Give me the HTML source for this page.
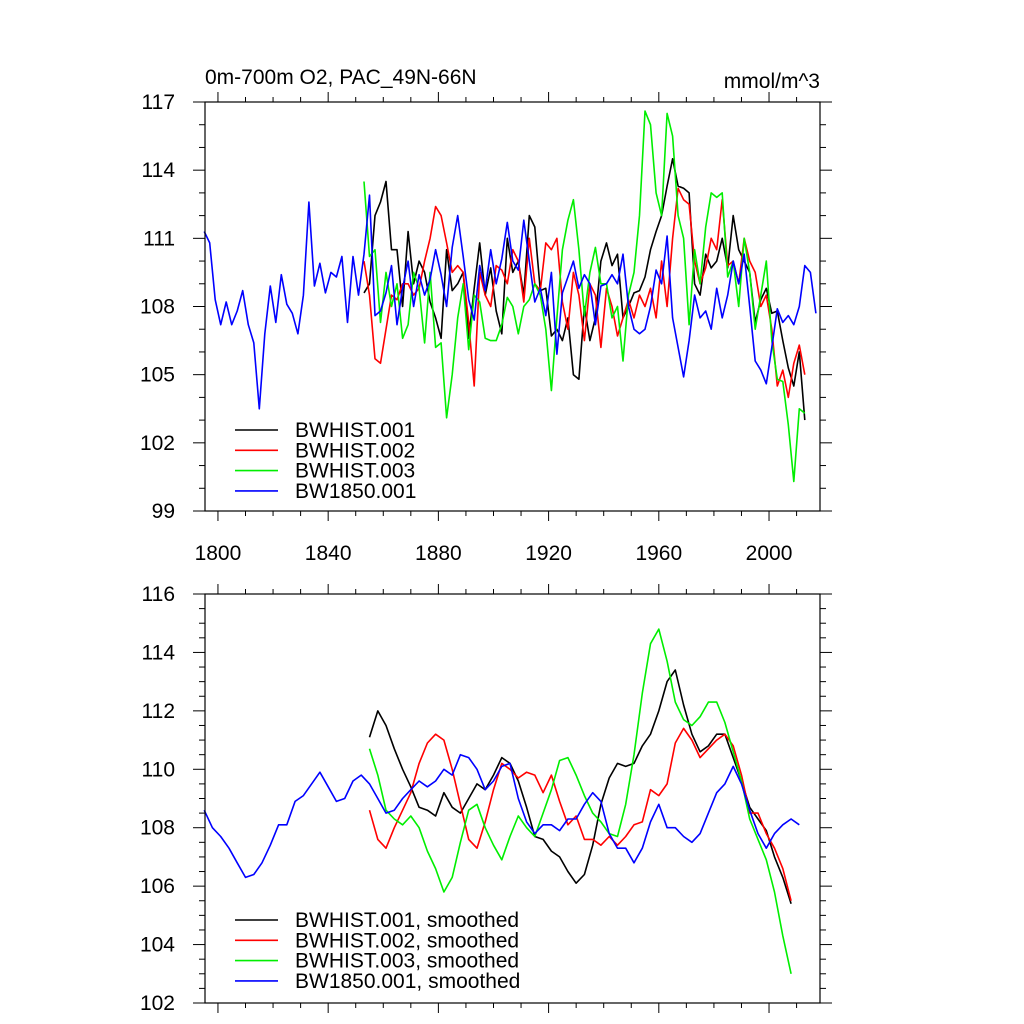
<!DOCTYPE html>
<html><head><meta charset="utf-8"><style>
html,body{margin:0;padding:0;background:#fff;}
svg{display:block;font-family:"Liberation Sans",Arial,sans-serif;}
</style></head><body>
<svg id="chart" width="1024" height="1024" viewBox="0 0 1024 1024">
<text x="205" y="84" font-size="21">0m-700m O2, PAC_49N-66N</text>
<text x="820" y="88" font-size="21" text-anchor="end">mmol/m^3</text>
<g id="top"></g>
<g id="bot"></g>
</svg>
<script>
// ---- top panel (annual values, every 2 years) ----
const rawBlueStart = 1795;
const rawBlue = [111.3,110.8,108.3,107.2,108.2,107.2,107.8,108.7,107.2,106.4,103.5,106.8,108.9,107.3,109.4,108.1,107.7,106.8,108.5,112.6,108.9,109.9,108.6,109.5,109.3,110.2,107.3,110.2,108.5,110.3,112.9,107.6,107.8,108.6,109.8,107.2,108.8,110.0,108.0,109.4,108.5,109.2,110.5,109.4,108.0,110.6,112.0,110.2,108.3,107.4,109.8,108.7,110.5,109.0,110.1,111.7,110.0,109.6,111.8,110.0,108.2,108.8,107.6,109.5,105.9,108.6,109.3,110.0,108.8,109.4,109.0,107.2,108.9,109.0,109.4,109.0,110.3,108.0,107.0,106.8,107.0,108.0,109.6,109.0,111.1,107.5,106.2,104.9,106.5,108.5,107.5,107.8,107.0,108.8,107.5,108.5,110.0,109.0,110.3,108.0,105.6,105.2,104.6,106.2,107.9,107.3,107.6,107.2,108.0,109.8,109.5,107.7];
const rawHistStart = 1853;
const rawBlack = [108.6,109.0,112.0,112.6,113.5,110.5,110.5,108.0,111.3,109.0,110.0,109.5,108.2,107.5,106.6,110.5,108.7,109.0,109.5,106.6,108.8,110.8,108.5,109.7,107.8,106.8,111.0,109.5,110.0,108.5,112.0,111.5,108.7,108.8,106.7,107.0,106.5,107.5,105.0,104.8,108.0,106.5,107.5,110.0,110.8,109.8,110.3,107.5,108.0,108.6,108.7,109.3,110.5,111.3,112.0,113.3,114.5,113.3,113.2,113.0,109.0,108.5,110.3,109.7,110.0,111.0,109.7,112.0,110.5,110.0,109.5,107.3,108.3,108.8,107.7,107.8,106.5,105.3,104.5,106.0,103.0];
const rawRed = [110.0,108.5,105.7,105.5,107.0,108.5,108.3,109.0,109.0,108.5,108.8,110.0,111.0,112.4,112.0,110.8,109.5,109.8,109.5,107.3,104.5,109.5,108.5,108.0,109.8,109.6,109.0,110.5,110.0,108.2,111.0,109.0,108.7,110.8,110.5,111.0,108.2,107.0,109.5,108.5,106.5,109.0,108.5,106.2,108.8,108.0,106.7,107.5,108.3,107.5,108.5,108.0,108.8,107.5,110.0,108.0,111.0,113.2,112.7,112.5,110.0,109.0,109.7,111.0,110.5,112.7,109.8,110.0,109.0,111.0,110.0,109.5,108.0,108.5,107.0,104.5,105.2,104.0,105.5,106.3,105.0];
const rawGreen = [113.5,110.2,110.5,107.3,109.5,108.0,109.0,106.6,107.2,109.5,108.8,106.4,109.5,106.2,106.4,103.1,105.0,107.5,109.0,106.1,108.5,108.2,106.6,106.5,106.5,107.2,108.4,108.0,106.8,108.0,108.3,109.0,108.5,107.0,104.3,107.5,110.5,111.8,112.7,110.5,107.6,109.5,110.6,109.0,109.0,107.5,108.0,105.6,108.5,109.5,112.0,116.6,116.0,113.0,112.0,116.5,115.5,112.0,111.0,107.2,110.5,109.0,111.5,113.0,112.8,113.0,109.3,110.0,108.0,111.0,109.5,107.0,108.5,110.0,106.5,104.8,104.7,102.8,100.3,103.5,103.3];
const topYTicks = [99,102,105,108,111,114,117];
const xTickLabels = [1800,1840,1880,1920,1960,2000];
// ---- bottom panel (smoothed, every 3 years) ----
const smBlueStart = 1795;
const smBlue = [108.6,108.0,107.7,107.3,106.8,106.3,106.4,106.8,107.4,108.1,108.1,108.9,109.1,109.5,109.9,109.4,108.9,109.0,109.6,109.8,109.5,109.0,108.5,108.6,109.0,109.3,109.6,109.4,109.6,110.0,109.8,110.5,110.4,110.0,109.3,109.6,110.1,110.2,109.0,108.2,107.8,108.1,108.1,107.9,108.3,108.3,108.8,109.2,108.9,107.8,107.3,107.3,106.8,107.3,108.2,108.8,108.0,108.0,107.7,107.5,107.8,108.5,109.2,109.5,110.1,109.5,108.6,107.8,107.3,107.8,108.1,108.3,108.1];
const smHistStart = 1855;
const smBlack = [111.1,112.0,111.5,110.7,110.0,109.4,108.7,108.6,108.4,109.2,108.7,108.5,109.0,109.5,109.3,109.8,110.4,110.2,109.6,108.7,107.7,107.6,107.2,107.0,106.5,106.1,106.4,107.4,108.8,109.7,110.2,110.1,110.2,110.8,111.2,112.0,113.0,113.4,112.2,111.2,110.6,110.8,111.2,111.2,110.4,109.6,108.7,108.3,107.9,107.0,106.3,105.4];
const smRed = [108.6,107.6,107.3,108.0,108.6,109.2,110.2,110.9,111.2,111.0,110.0,108.8,107.6,107.3,108.2,109.3,110.2,110.0,109.7,109.9,109.8,109.2,109.8,108.9,108.1,108.4,107.6,107.6,107.4,107.7,107.4,107.7,108.1,108.2,109.3,109.1,109.5,110.9,111.4,111.0,110.4,110.7,111.0,111.2,110.8,109.8,108.5,108.5,107.8,107.3,106.6,105.5];
const smGreen = [110.7,109.8,108.6,108.3,108.1,108.4,108.0,107.2,106.6,105.8,106.3,107.5,108.6,108.8,108.0,107.4,106.9,107.7,108.4,108.0,107.7,108.5,109.3,110.3,110.4,109.8,109.1,108.5,108.2,107.8,107.7,108.8,110.5,112.6,114.3,114.8,113.7,112.3,111.7,111.5,111.8,112.3,112.3,111.6,110.6,109.6,108.3,107.6,106.9,105.8,104.3,103.0];
const botYTicks = [102,104,106,108,110,112,114,116];
const legendTop = ["BWHIST.001","BWHIST.002","BWHIST.003","BW1850.001"];
const legendBot = ["BWHIST.001, smoothed","BWHIST.002, smoothed","BWHIST.003, smoothed","BW1850.001, smoothed"];

const NS="http://www.w3.org/2000/svg";
const COLORS=["#000000","#ff0000","#00ee00","#0000ff"];
const L=205,R=820,XMIN=1795.3,XMAX=2018.5;
function xs(yr){return L+(yr-XMIN)/(XMAX-XMIN)*(R-L);}
function mk(tag,attrs,parent){const e=document.createElementNS(NS,tag);for(const k in attrs)e.setAttribute(k,attrs[k]);parent.appendChild(e);return e;}

function panel(g,top,bot,ymin,ymax,yMajor,yMinorStep,xLabels,series,legend,legY){
  const ys=v=>bot-(v-ymin)/(ymax-ymin)*(bot-top);
  series.forEach((s,i)=>{
    const pts=s.vals.map((v,j)=>xs(s.start+j*s.step).toFixed(1)+","+ys(v).toFixed(1)).join(" ");
    const pl=mk("polyline",{points:pts,fill:"none",stroke:COLORS[i],"stroke-width":"1.6","stroke-linejoin":"round"},g);
    
    
  });
  const fr=mk("rect",{x:L,y:top,width:R-L,height:bot-top,fill:"none",stroke:"#000","stroke-width":"1.2"},g);
  
  
  for(let yr=1800;yr<=2010;yr+=10){
    const major=(yr-1800)%40===0;const len=major?10:5;const x=xs(yr);
    mk("line",{x1:x,x2:x,y1:bot,y2:bot+len,stroke:"#000","stroke-width":"1"},g);
    mk("line",{x1:x,x2:x,y1:top,y2:top-len,stroke:"#000","stroke-width":"1"},g);
  }
  if(xLabels){xLabels.forEach(yr=>{
    const t=mk("text",{x:xs(yr),y:bot+49,"font-size":"21","text-anchor":"middle"},g);t.textContent=yr;
    
    
  });}
  for(let v=ymin;v<=ymax+1e-6;v+=yMinorStep){
    const isMajor=yMajor.some(m=>Math.abs(m-v)<1e-6);const len=isMajor?12:6;const y=ys(v);
    mk("line",{x1:L,x2:L-len,y1:y,y2:y,stroke:"#000","stroke-width":"1"},g);
    mk("line",{x1:R,x2:R+len,y1:y,y2:y,stroke:"#000","stroke-width":"1"},g);
  }
  yMajor.forEach(v=>{
    const t=mk("text",{x:L-30,y:ys(v)+7,"font-size":"21","text-anchor":"end"},g);t.textContent=v;
    
    
  });
  legend.forEach((lab,i)=>{
    const y=legY+i*20.3;
    const ln=mk("line",{x1:235,x2:278,y1:y,y2:y,stroke:COLORS[i],"stroke-width":"1.6"},g);
    
    
    const t=mk("text",{x:295,y:y+7,"font-size":"21"},g);t.textContent=lab;
    
    
  });
}
panel(document.getElementById("top"),102,511,99,117,topYTicks,1,xTickLabels,[
  {name:"bwhist-001",start:rawHistStart,step:2,vals:rawBlack},
  {name:"bwhist-002",start:rawHistStart,step:2,vals:rawRed},
  {name:"bwhist-003",start:rawHistStart,step:2,vals:rawGreen},
  {name:"bw1850-001",start:rawBlueStart,step:2,vals:rawBlue}],legendTop,430);
panel(document.getElementById("bot"),594,1003,102,116,botYTicks,0.5,null,[
  {name:"bwhist-001-smoothed",start:smHistStart,step:3,vals:smBlack},
  {name:"bwhist-002-smoothed",start:smHistStart,step:3,vals:smRed},
  {name:"bwhist-003-smoothed",start:smHistStart,step:3,vals:smGreen},
  {name:"bw1850-001-smoothed",start:smBlueStart,step:3,vals:smBlue}],legendBot,920);
</script>
</body></html>
